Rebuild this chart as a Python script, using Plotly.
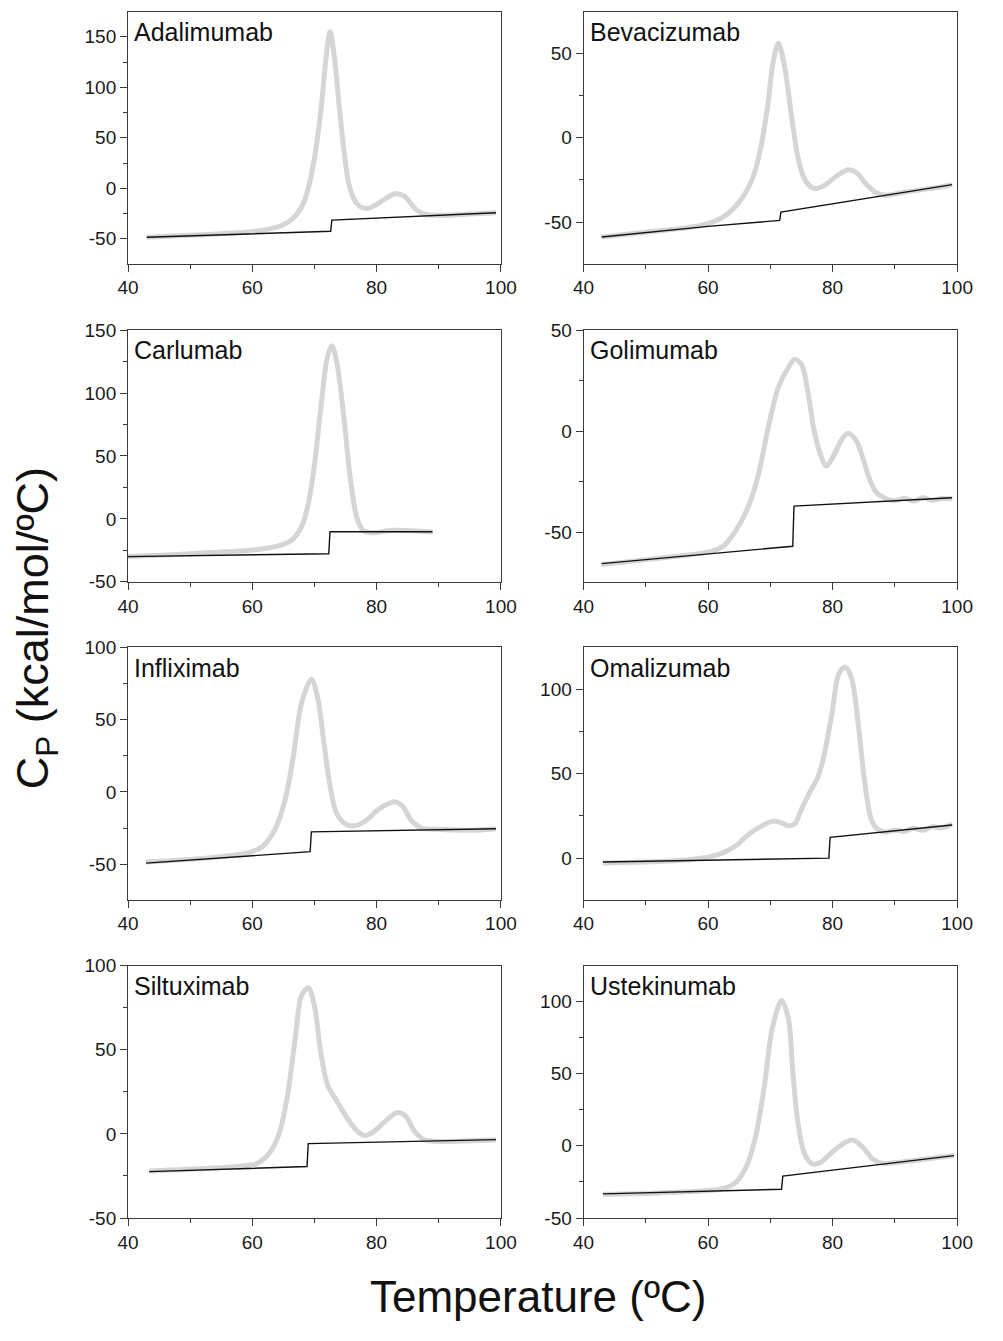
import plotly.graph_objects as go

# ---------------- data ----------------
names = ["Adalimumab", "Bevacizumab", "Carlumab", "Golimumab",
         "Infliximab", "Omalizumab", "Siltuximab", "Ustekinumab"]

adalimumab_T = [43, 50, 55, 60, 63, 65, 66.5, 68, 69, 70, 71, 71.8, 72.5, 73.2, 74, 74.8, 75.5,
                76.3, 77.3, 78.5, 80, 81.5, 83, 84.5, 85.5, 86.5, 88, 90, 95, 99.2]
adalimumab_cp = [-48.5, -46.5, -45, -43, -40, -36, -30, -18, 0, 30, 75, 125, 155, 130, 80, 35, 5,
                 -10, -18, -20, -16, -10, -5.5, -8, -15, -22, -26, -27, -25.5, -24.3]
adalimumab_base_T = [43, 72.6, 72.8, 99.2]
adalimumab_base_cp = [-48.5, -42.6, -31.5, -24.3]

bevacizumab_T = [42.9, 50, 55, 58.8, 62.4, 65, 67.1, 68.4, 69.5, 70.5, 71.3, 72.3, 73.4, 74.4,
                 75.5, 77, 78.6, 80.7, 82.5, 83.8, 85.4, 86.9, 88.5, 92, 96, 99.2]
bevacizumab_cp = [-58.8, -56, -54, -52, -47, -38, -24.5, -7, 17, 46, 56, 42, 13, -11,
                  -24.5, -30, -28.4, -22.5, -19, -20.6, -27.5, -32.4, -34, -32, -30, -27.8]
bevacizumab_base_T = [42.9, 50, 60, 71.5, 71.7, 99.2]
bevacizumab_base_cp = [-58.8, -56, -52.5, -49, -44.1, -27.8]

carlumab_T = [40, 47, 53.3, 60.1, 63.7, 66.3, 67.9, 69, 70, 71, 72.1, 72.8, 73.6, 74.7, 75.7,
              76.8, 77.8, 79.4, 82.5, 89]
carlumab_cp = [-30, -28.5, -26.8, -24.7, -22, -16.9, -6.5, 11.8, 43, 87.4, 129, 137.5, 124, 82, 35,
               1.3, -9, -11, -9, -10.4]
carlumab_base_T = [40, 72.3, 72.5, 89]
carlumab_base_cp = [-30, -27.7, -10.2, -10.2]

golimumab_T = [42.9, 52, 60.3, 62.4, 64.5, 66.6, 68.2, 69.7, 71.3, 72.9, 73.9, 75, 76, 77, 78.1,
               79, 80.2, 81.5, 82.5, 83.8, 84.9, 85.9, 86.9, 88.5, 90, 91.5, 93, 94.5, 96, 97.5, 99.2]
golimumab_cp = [-66, -63, -59.7, -57, -49, -36.3, -20, 2.4, 21.8, 31.5, 35.5, 33, 20, 0.8, -12,
                -17.3, -12, -4, -1.1, -4.8, -13.7, -23.4, -29.8, -33.4, -34.5, -33.2, -34.6, -33, -34.2, -33.4, -33.5]
golimumab_base_T = [42.9, 73.6, 73.8, 99.2]
golimumab_base_cp = [-65.6, -57, -37.1, -33]

infliximab_T = [42.9, 53.3, 59.6, 61.6, 63.7, 65.3, 66.6, 67.9, 69.5, 70.5, 71.6, 72.6, 73.6,
                75.2, 76.8, 78.3, 80.4, 82.8, 84.1, 85.6, 87.2, 89.8, 95, 99.2]
infliximab_cp = [-48.6, -45.5, -41.8, -38, -25.5, -5, 24.5, 61, 78, 65.5, 31.4, 1.8, -15.2,
                 -22.7, -23.2, -19.8, -11.8, -6.8, -9.5, -19.8, -25, -25.9, -26.6, -25.5]
infliximab_base_T = [42.9, 69.3, 69.5, 99.2]
infliximab_base_cp = [-49.3, -41.4, -27.7, -25.5]

omalizumab_T = [43.1, 52, 57.2, 60.3, 62.4, 64.5, 66.6, 68.7, 70.3, 71.6, 72.9, 73.9, 75, 76.3,
                77.6, 78.6, 79.9, 81, 82, 83, 84.1, 85.1, 86.2, 87.2, 88.5, 90, 91.5, 93, 94.5,
                96, 97.5, 99.2]
omalizumab_cp = [-2.9, -2, -0.8, 0.8, 3.1, 7.4, 14.3, 19.2, 21.7, 21.1, 19.2, 20.2, 29, 38.7,
                 47.6, 60.3, 85.7, 109, 113, 107, 79.8, 46.6, 23.1, 17.2, 15.3, 16.5, 15.8, 17.6,
                 16.4, 18.6, 17.9, 20.2]
omalizumab_base_T = [43.1, 79.4, 79.6, 99.2]
omalizumab_base_cp = [-2.3, 0, 12.3, 19.6]

siltuximab_T = [43.4, 53.3, 58.5, 60.6, 62.7, 64.3, 65.6, 66.9, 67.9, 69, 70, 71, 72.1, 73.6,
                75.2, 76.8, 78.1, 79.4, 81.5, 83.3, 84.6, 86.2, 87.7, 89.8, 99.2]
siltuximab_cp = [-22, -20.4, -19, -17.9, -11.6, 0, 21.5, 56.6, 81.9, 86.8, 76, 48.8, 29.2, 19.5,
                 9.7, 1.9, -1, 1, 7.9, 12.7, 10.8, 1, -3.5, -4.4, -3.5]
siltuximab_base_T = [43.4, 68.8, 69, 99.2]
siltuximab_base_cp = [-22.4, -19.4, -5.8, -3.4]

ustekinumab_T = [43.1, 52, 58.8, 62.4, 64.5, 66.1, 67.6, 69, 70.3, 71.8, 72.9, 73.6, 74.4, 75.5,
                 76.8, 78.1, 80.2, 82.3, 83.3, 84.9, 86.4, 88, 93.7, 99.5]
ustekinumab_cp = [-33.6, -32.6, -31.3, -29.7, -25.1, -14.8, 5.7, 40, 81, 100.5, 88, 51.4, 17.1,
                  -5.7, -12.6, -11.4, -3.4, 3, 3.9, -1.1, -9.1, -12.1, -9.8, -6.8]
ustekinumab_base_T = [43.1, 71.8, 72, 99.5]
ustekinumab_base_cp = [-33.3, -30.1, -21, -6.8]

x_ticks = [40, 60, 80, 100]
y_tick_sets = [
    [-50, 0, 50, 100, 150],
    [-50, 0, 50],
    [-50, 0, 50, 100, 150],
    [-50, 0, 50],
    [-50, 0, 50, 100],
    [0, 50, 100],
    [-50, 0, 50, 100],
    [-50, 0, 50, 100],
]

# ---------------- layout helpers ----------------
curves = [
    (adalimumab_T, adalimumab_cp, adalimumab_base_T, adalimumab_base_cp),
    (bevacizumab_T, bevacizumab_cp, bevacizumab_base_T, bevacizumab_base_cp),
    (carlumab_T, carlumab_cp, carlumab_base_T, carlumab_base_cp),
    (golimumab_T, golimumab_cp, golimumab_base_T, golimumab_base_cp),
    (infliximab_T, infliximab_cp, infliximab_base_T, infliximab_base_cp),
    (omalizumab_T, omalizumab_cp, omalizumab_base_T, omalizumab_base_cp),
    (siltuximab_T, siltuximab_cp, siltuximab_base_T, siltuximab_base_cp),
    (ustekinumab_T, ustekinumab_cp, ustekinumab_base_T, ustekinumab_base_cp),
]
y_ranges = [[-74.6, 174.6], [-74.6, 74.6], [-50, 150], [-74.6, 50],
            [-74.6, 100], [-24.6, 124.6], [-50, 100], [-50, 124.6]]

# figure is sized to fit inside the page's default 8px body margin
W, H, OFF = 987, 1325, 8


def fx(px):
    return (px - OFF) / W


def fy(px):
    return 1 - (px - OFF) / H


col_dom = [[fx(128.3), fx(511.7)], [fx(596.7), fx(980.7)]]
row_dom = [[fy(265.7), fy(10)], [fy(589), fy(333.3)], [fy(912), fy(655.7)], [fy(1235.5), fy(979)]]

FONT = "Liberation Sans, Arial, Helvetica, sans-serif"
AXC = "#3a3a3a"
TXT = "#1a1a1a"

fig = go.Figure()
layout = dict(
    width=W, height=H,
    margin=dict(l=0, r=0, t=0, b=0, pad=0),
    paper_bgcolor="white", plot_bgcolor="white",
    showlegend=False,
    font=dict(family=FONT, color=TXT),
)
annotations = []

for i, (name, (T, cp, bT, bcp)) in enumerate(zip(names, curves)):
    r, c = divmod(i, 2)
    k = "" if i == 0 else str(i + 1)
    xa, ya = "x" + k, "y" + k
    fig.add_trace(go.Scatter(x=T, y=cp, xaxis=xa, yaxis=ya, mode="lines",
                             line=dict(color="#d5d5d5", width=5, shape="spline", smoothing=0.9),
                             hoverinfo="skip"))
    fig.add_trace(go.Scatter(x=bT, y=bcp, xaxis=xa, yaxis=ya, mode="lines",
                             line=dict(color="#111111", width=1.4), hoverinfo="skip"))
    yt = y_tick_sets[i]
    layout["xaxis" + k] = dict(
        domain=col_dom[c], anchor=ya, range=[40, 100],
        tickmode="array", tickvals=x_ticks, ticktext=[str(v) for v in x_ticks],
        ticks="outside", ticklen=7, tickwidth=1, tickcolor=AXC,
        minor=dict(ticks="outside", dtick=10, tick0=40, ticklen=4, tickwidth=1, tickcolor=AXC),
        showline=True, linecolor=AXC, linewidth=1, mirror=True,
        showgrid=False, zeroline=False,
        tickfont=dict(size=19, family=FONT, color=TXT),
    )
    layout["yaxis" + k] = dict(
        domain=row_dom[r], anchor=xa, range=y_ranges[i],
        tickmode="array", tickvals=yt, ticktext=[str(v) for v in yt],
        ticks="outside", ticklen=7, tickwidth=1, tickcolor=AXC,
        minor=dict(ticks="outside", dtick=25, tick0=0, ticklen=4, tickwidth=1, tickcolor=AXC),
        showline=True, linecolor=AXC, linewidth=1, mirror=True,
        showgrid=False, zeroline=False,
        tickfont=dict(size=19, family=FONT, color=TXT),
    )
    annotations.append(dict(
        text=name, xref=xa + " domain", yref=ya + " domain",
        x=0.012, y=0.92, xanchor="left", yanchor="middle",
        showarrow=False, font=dict(size=25, family=FONT, color="#111111"),
    ))

annotations.append(dict(
    text="Temperature (ºC)", xref="paper", yref="paper",
    x=fx(550), y=fy(1315), xanchor="center", yanchor="middle",
    showarrow=False, font=dict(size=44, family=FONT, color="#111111"),
))
annotations.append(dict(
    text="C<sub>P</sub> (kcal/mol/ºC)", xref="paper", yref="paper",
    x=fx(33), y=fy(636), xanchor="center", yanchor="middle", textangle=-90,
    showarrow=False, font=dict(size=45, family=FONT, color="#111111"),
))
layout["annotations"] = annotations
fig.update_layout(**layout)
fig.write_html("out.html")
